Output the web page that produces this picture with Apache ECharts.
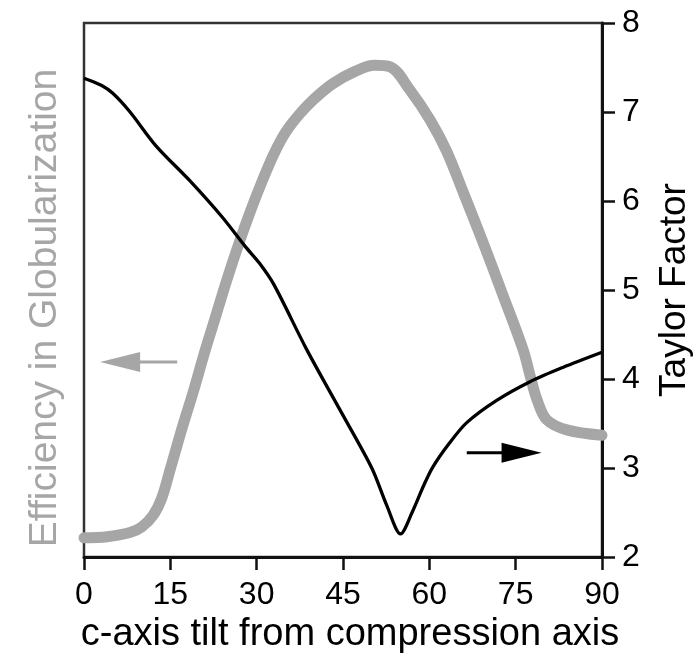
<!DOCTYPE html>
<html>
<head>
<meta charset="utf-8">
<script src="https://cdn.jsdelivr.net/npm/echarts@6/dist/echarts.min.js"></script>
<style>
  html, body { margin: 0; padding: 0; background: #fff; }
  #chart { width: 697px; height: 654px; }
</style>
</head>
<body>
<div id="chart"></div>
<script>
// Taylor factor (right axis) vs c-axis tilt
var tiltTaylor = [0, 3, 5, 8, 12.5, 18.5, 24, 28, 30.5, 33, 38.7, 44.5, 50, 52.6, 55, 57, 59, 60.6, 63.5, 66.5, 71.7, 77.5, 83.2, 90];
var taylorFactor = [7.38, 7.3, 7.21, 7.0, 6.62, 6.22, 5.82, 5.49, 5.3, 5.06, 4.33, 3.65, 3.0, 2.58, 2.26, 2.5, 2.8, 3.01, 3.28, 3.51, 3.76, 3.97, 4.13, 4.3];

// efficiency in globularization (left axis, no scale shown, 0-100)
var tiltGlob = [0, 4, 8, 10, 12, 13.5, 15, 17, 19, 21, 23, 25, 27, 29, 31, 33, 35, 37.5, 40, 43.3, 47, 50.5, 53.2, 56.6, 60.1, 63, 66, 69.3, 72.8, 76.3, 77.5, 78.7, 80.4, 83.9, 90];
var globEfficiency = [3.6, 3.8, 4.6, 5.6, 7.8, 11, 16.5, 24, 31, 38.5, 45.5, 52.5, 59, 65, 70.5, 75.5, 79.5, 83, 85.8, 88.7, 90.9, 92.1, 91.8, 87.5, 81.9, 76, 68, 59, 49, 38.8, 34, 29.5, 25.7, 23.8, 22.8];

var xTicks = [0, 15, 30, 45, 60, 75, 90];

// annotation arrows (data space)
var grayArrow = { from: [16.2, 36.5], to: [2.8, 36.5] };
var blackArrow = { from: [66.5, 3.17], to: [79.5, 3.17] };

var font = 'Liberation Sans, Arial, Helvetica, sans-serif';
var grayColor = '#a6a6a6';

function pairs(xs, ys) {
  var out = [];
  for (var i = 0; i < xs.length; i++) out.push([xs[i], ys[i]]);
  return out;
}

var chart = echarts.init(document.getElementById('chart'));

var option = {
  animation: false,
  backgroundColor: '#fff',
  textStyle: { fontFamily: font },
  grid: {
    left: 84, right: 95, top: 23, bottom: 97,
    containLabel: false,
    outerBoundsMode: 'none',
    show: true,
    borderColor: '#333',
    borderWidth: 2.5
  },
  xAxis: {
    type: 'value',
    min: xTicks[0],
    max: xTicks[xTicks.length - 1],
    interval: 15,
    name: 'c-axis tilt from compression axis',
    nameLocation: 'middle',
    nameGap: 57,
    nameTextStyle: { fontSize: 38, color: '#000', fontFamily: font, padding: [0, 0, 0, 14] },
    axisLine: { lineStyle: { color: '#111', width: 3 } },
    axisTick: { show: true, inside: false, length: 13, lineStyle: { color: '#111', width: 2.5 } },
    axisLabel: { fontSize: 32, color: '#000', margin: 22, fontFamily: font },
    splitLine: { show: false }
  },
  yAxis: [
    {
      type: 'value',
      position: 'left',
      min: 0,
      max: 100,
      name: 'Efficiency in Globularization',
      nameLocation: 'middle',
      nameRotate: 90,
      nameGap: 19,
      nameTextStyle: { fontSize: 39, color: grayColor, fontFamily: font, padding: [0, 36, 0, 0] },
      axisLine: { show: false },
      axisTick: { show: false },
      axisLabel: { show: false },
      splitLine: { show: false }
    },
    {
      type: 'value',
      position: 'right',
      min: 2,
      max: 8,
      interval: 1,
      name: 'Taylor Factor',
      nameLocation: 'middle',
      nameRotate: 90,
      nameGap: 54,
      nameTextStyle: { fontSize: 37, color: '#000', fontFamily: font },
      axisLine: { show: true, lineStyle: { color: '#111', width: 3 } },
      axisTick: { show: true, inside: false, length: 13, lineStyle: { color: '#111', width: 2.5 } },
      axisLabel: { fontSize: 32, color: '#000', margin: 20, fontFamily: font },
      splitLine: { show: false }
    }
  ],
  series: [
    {
      name: 'Efficiency in Globularization',
      type: 'line',
      yAxisIndex: 0,
      data: pairs(tiltGlob, globEfficiency),
      smooth: 0.35,
      showSymbol: false,
      lineStyle: { color: grayColor, width: 11, cap: 'round', join: 'round' },
      z: 2
    },
    {
      name: 'Taylor Factor',
      type: 'line',
      yAxisIndex: 1,
      data: pairs(tiltTaylor, taylorFactor),
      smooth: 0.3,
      showSymbol: false,
      lineStyle: { color: '#000', width: 3.3 },
      z: 3
    }
  ]
};

chart.setOption(option);

function arrowGraphic(a, axisIndex, color) {
  var p0 = chart.convertToPixel({ xAxisIndex: 0, yAxisIndex: axisIndex }, a.from);
  var p1 = chart.convertToPixel({ xAxisIndex: 0, yAxisIndex: axisIndex }, a.to);
  var dir = p1[0] > p0[0] ? 1 : -1;
  var headLen = 40, headHalf = 10;
  var baseX = p1[0] - dir * headLen;
  return [
    {
      type: 'line',
      shape: { x1: p0[0], y1: p0[1], x2: baseX + dir * 2, y2: p1[1] },
      style: { stroke: color, lineWidth: 3 },
      z: 10
    },
    {
      type: 'polygon',
      shape: { points: [[p1[0], p1[1]], [baseX, p1[1] - headHalf], [baseX, p1[1] + headHalf]] },
      style: { fill: color },
      z: 10
    }
  ];
}

chart.setOption({
  graphic: arrowGraphic(grayArrow, 0, grayColor).concat(arrowGraphic(blackArrow, 1, '#000'))
});

window.addEventListener('resize', function() {
  chart.resize();
});
</script>
</body>
</html>
